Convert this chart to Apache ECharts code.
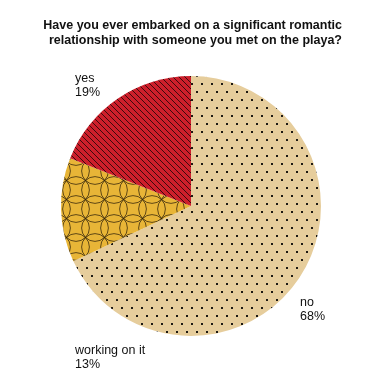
<!DOCTYPE html>
<html><head><meta charset="utf-8">
<script src="https://cdn.jsdelivr.net/npm/echarts@6/dist/echarts.min.js"></script>
<style>html,body{margin:0;padding:0;background:#fff}#c{width:385px;height:387px}</style>
</head><body><div id="c"></div>
<script>
// ---- data ----
const titleLines = ['Have you ever embarked on a significant romantic', 'relationship with someone you met on the playa?'];
const categories = ['no', 'working on it', 'yes'];
const values = [68, 13, 19];

// ---- label placement (layout, not data) ----
const labelPos = { 'no': [300, 296], 'working on it': [75, 344], 'yes': [75, 72] };

function dotsPattern() {
  const c = document.createElement('canvas'); c.width = 10; c.height = 16;
  const g = c.getContext('2d');
  g.fillStyle = '#e6cd9c'; g.fillRect(0, 0, 10, 16);
  g.fillStyle = '#1e1a14';
  g.fillRect(1, 3, 2, 2); g.fillRect(6, 11, 2, 2);
  return c;
}
function linesPattern() {
  const n = 6;
  const c = document.createElement('canvas'); c.width = n; c.height = n;
  const g = c.getContext('2d');
  g.fillStyle = '#cd1f2b'; g.fillRect(0, 0, n, n);
  g.fillStyle = 'rgba(25,5,5,0.8)';
  for (let i = 0; i < n; i++) g.fillRect(i, i, 1, 1);
  return c;
}
function circlesPattern() {
  const s = 19, R = 13.4;
  const c = document.createElement('canvas'); c.width = s; c.height = s;
  const g = c.getContext('2d');
  g.fillStyle = '#e8b537'; g.fillRect(0, 0, s, s);
  g.strokeStyle = 'rgba(40,28,8,0.8)'; g.lineWidth = 0.9;
  [[0, 0], [s, 0], [0, s], [s, s]].forEach(p => {
    g.beginPath(); g.arc(p[0], p[1], R, 0, Math.PI * 2); g.stroke();
  });
  return c;
}
const fills = {
  'no': { image: dotsPattern(), repeat: 'repeat' },
  'working on it': { image: circlesPattern(), repeat: 'repeat' },
  'yes': { image: linesPattern(), repeat: 'repeat' }
};

const chart = echarts.init(document.getElementById('c'), null, { renderer: 'canvas' });
chart.setOption({
  animation: false,
  graphic: [{
    type: 'text', x: 342, y: 18, silent: true,
    style: {
      text: titleLines.join('\n'),
      textAlign: 'right', textVerticalAlign: 'top',
      fontFamily: 'Liberation Sans, Arial, sans-serif', fontSize: 12.5, fontWeight: 'bold',
      fill: '#111', lineHeight: 15
    }
  }],
  series: [{
    type: 'pie',
    center: [191, 206],
    radius: 130,
    startAngle: 90,
    clockwise: true,
    silent: true,
    avoidLabelOverlap: false,
    emphasis: { disabled: true },
    label: {
      show: true,
      formatter: '{b}\n{d}%',
      fontFamily: 'Liberation Sans, Arial, sans-serif',
      fontSize: 12.5, lineHeight: 14, color: '#111'
    },
    labelLine: { show: false },
    labelLayout: function (p) {
      const pos = labelPos[categories[p.dataIndex]];
      return { x: pos[0], y: pos[1], align: 'left', verticalAlign: 'top' };
    },
    data: categories.map((n, i) => ({ name: n, value: values[i], itemStyle: { color: fills[n] } }))
  }]
});
</script>
</body></html>
